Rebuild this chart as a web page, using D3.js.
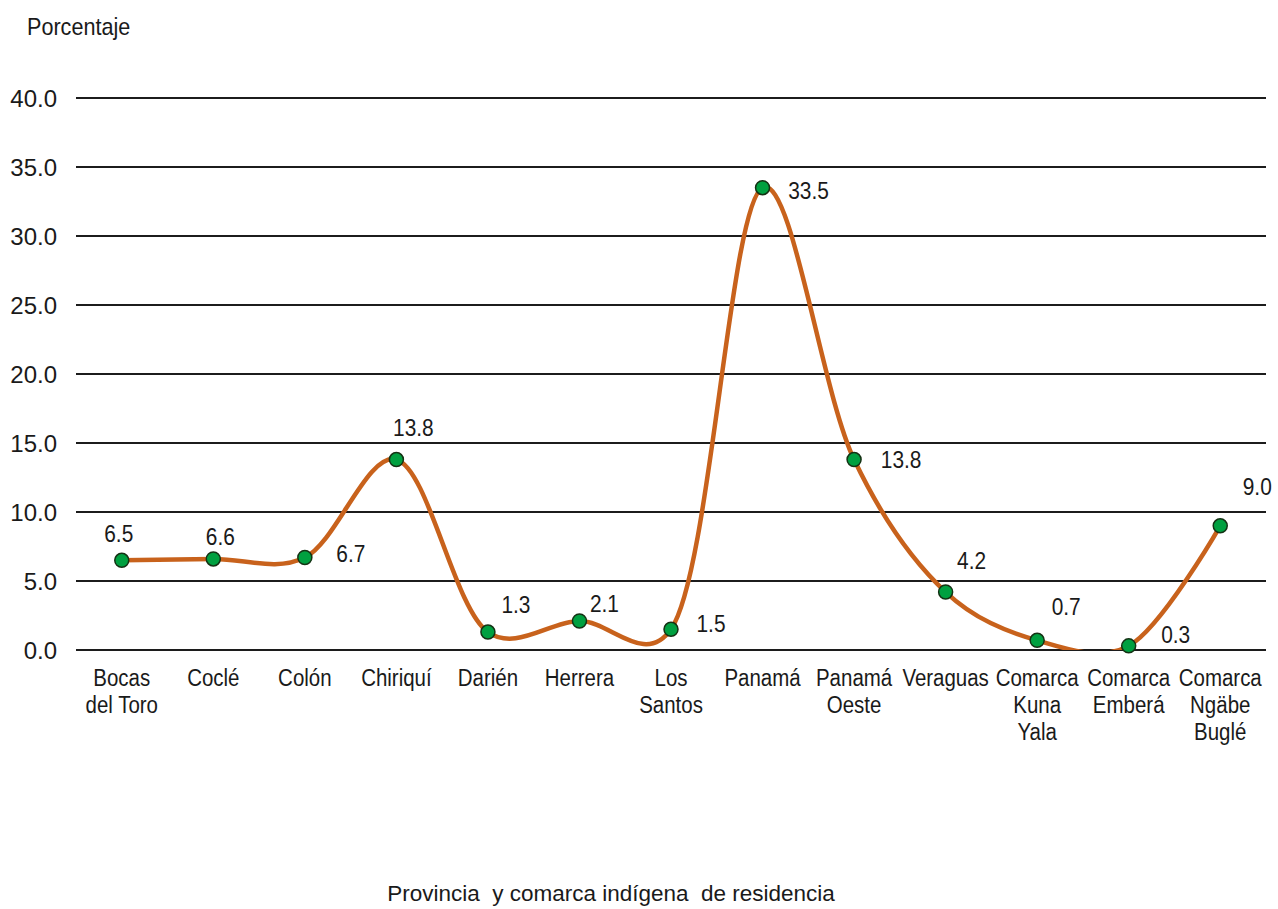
<!DOCTYPE html>
<html>
<head>
<meta charset="utf-8">
<script src="https://cdn.jsdelivr.net/npm/d3@7"></script>
<style>
    body { margin: 0; background: #fff; }
    text { font-family: "Liberation Sans", Arial, sans-serif; fill: #1a1a1a; }
</style>
</head>
<body>
<div id="chart"></div>
<script>
// Porcentaje por provincia y comarca indígena de residencia
const categories = [
    ["Bocas", "del Toro"], ["Coclé"], ["Colón"], ["Chiriquí"], ["Darién"], ["Herrera"],
    ["Los", "Santos"], ["Panamá"], ["Panamá", "Oeste"], ["Veraguas"],
    ["Comarca", "Kuna", "Yala"], ["Comarca", "Emberá"], ["Comarca", "Ngäbe", "Buglé"]
];
const values = [6.5, 6.6, 6.7, 13.8, 1.3, 2.1, 1.5, 33.5, 13.8, 4.2, 0.7, 0.3, 9.0];
const yTicks = [0, 5, 10, 15, 20, 25, 30, 35, 40];

// label placement next to each point (dx, dy in px)
const labelOffsets = [
    [-3, -18], [7, -14], [46, 4], [17, -24], [28, -19], [25, -9], [40, 3],
    [46, 11], [47, 8], [26, -23], [29, -25], [47, -3], [37, -31]
];

const width = 1278;
const height = 909;
const margin = { top: 98, right: 12, bottom: 259, left: 76 };

const svg = d3.select("#chart").append("svg")
    .attr("width", width)
    .attr("height", height);

const x = d3.scalePoint()
    .domain(d3.range(categories.length))
    .range([margin.left, width - margin.right])
    .padding(0.5);

const y = d3.scaleLinear()
    .domain([0, 40])
    .range([height - margin.bottom, margin.top]);

// squeezed text helper (the source font is a bit narrow)
function label(g, tx, ty, str, size, sx, anchor) {
    return g.append("text")
        .attr("transform", `translate(${tx},${ty}) scale(${sx},1)`)
        .attr("text-anchor", anchor || "middle")
        .style("font-size", size + "px")
        .text(str);
}

// gridlines
svg.append("g")
    .selectAll("line")
    .data(yTicks)
    .join("line")
    .attr("x1", margin.left)
    .attr("x2", width - margin.right)
    .attr("y1", d => y(d))
    .attr("y2", d => y(d))
    .attr("stroke", "#1c1c1c")
    .attr("stroke-width", 1.8);

// y axis labels
const yAxis = svg.append("g")
    .attr("transform", `translate(${margin.left - 19},0)`)
    .call(d3.axisLeft(y).tickValues(yTicks).tickFormat(d3.format(".1f")).tickSize(0).tickPadding(0));
yAxis.select(".domain").remove();
yAxis.selectAll("text")
    .attr("dy", "0.35em")
    .style("font-family", "Liberation Sans, Arial, sans-serif")
    .style("font-size", "24px")
    .attr("fill", "#1a1a1a");

label(svg, 27, 35, "Porcentaje", 24, 0.9, "start");

// category labels
const catG = svg.append("g");
categories.forEach((lines, i) => {
    lines.forEach((ln, j) => {
        label(catG, x(i), 686 + j * 27, ln, 23, 0.89);
    });
});

svg.append("text")
    .attr("x", 611)
    .attr("y", 901)
    .attr("text-anchor", "middle")
    .style("font-size", "22.5px")
    .style("white-space", "pre")
    .text("Provincia  y comarca indígena  de residencia");

// smooth line, clipped at the zero line
svg.append("clipPath")
    .attr("id", "plot-clip")
    .append("rect")
    .attr("x", 0)
    .attr("y", 0)
    .attr("width", width)
    .attr("height", y(0));

const line = d3.line()
    .x((d, i) => x(i))
    .y(d => y(d))
    .curve(d3.curveCatmullRom.alpha(0.25));

svg.append("path")
    .datum(values)
    .attr("clip-path", "url(#plot-clip)")
    .attr("fill", "none")
    .attr("stroke", "#c8621c")
    .attr("stroke-width", 4.5)
    .attr("d", line);

svg.append("g")
    .selectAll("circle")
    .data(values)
    .join("circle")
    .attr("cx", (d, i) => x(i))
    .attr("cy", d => y(d))
    .attr("r", 7)
    .attr("fill", "#00a040")
    .attr("stroke", "#143214")
    .attr("stroke-width", 1.5);

// data labels
const valG = svg.append("g");
values.forEach((v, i) => {
    const [dx, dy] = labelOffsets[i];
    label(valG, x(i) + dx, y(v) + dy, v.toFixed(1), 24, 0.87);
});
</script>
</body>
</html>
